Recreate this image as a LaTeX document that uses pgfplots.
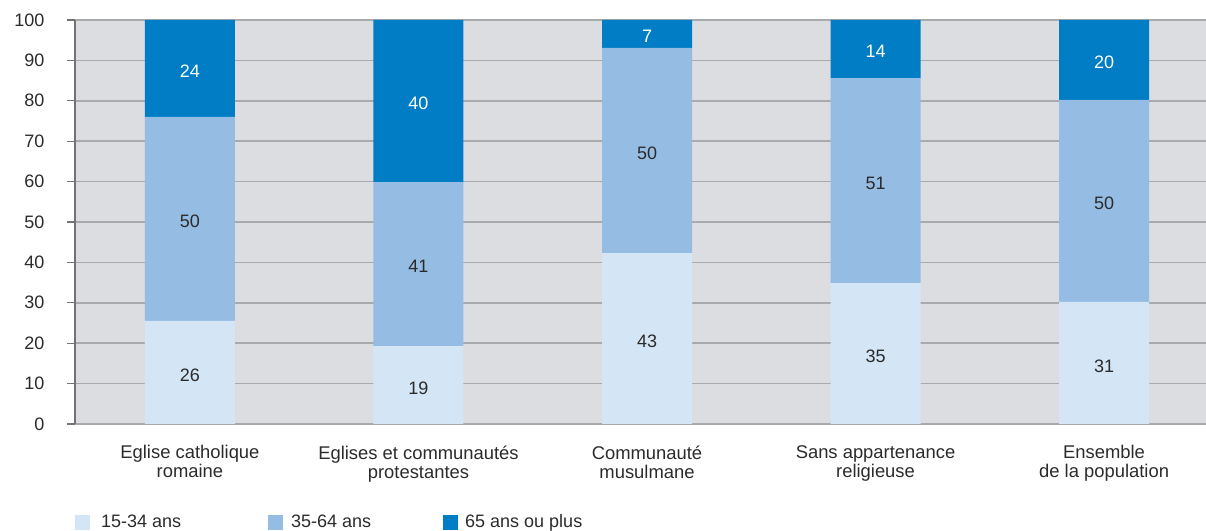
\documentclass[border=0pt]{standalone}
\usepackage{pgfplots}
\usepackage{pgfplotstable}
\pgfplotsset{compat=1.18}
\usepackage{fontspec}
\setmainfont{Liberation Sans}
\definecolor{cDark}{HTML}{007DC5}
\definecolor{cMid}{HTML}{95BDE4}
\definecolor{cLight}{HTML}{D4E5F5}
\definecolor{cBg}{HTML}{DCDDE0}
\definecolor{cGrid}{HTML}{A9AAAC}
\definecolor{cTxt}{HTML}{2B2B2B}

\pgfplotstableread{
x h lab
0 25.5 26
1 19.3 19
2 42.3 43
3 34.9 35
4 30.2 31
}\tyoung
\pgfplotstableread{
x h lab
0 50.5 50
1 40.6 41
2 50.8 50
3 50.7 51
4 50.0 50
}\tmid
\pgfplotstableread{
x h lab
0 24.0 24
1 40.1 40
2 6.9 7
3 14.4 14
4 19.8 20
}\told

\begin{document}
\begin{tikzpicture}
\path[use as bounding box] (0,0) rectangle (1206bp,531bp);
\begin{axis}[
  at={(75bp,107bp)}, anchor=south west,
  scale only axis, width=1131bp, height=404bp,
  ybar stacked, bar width=90bp,
  xmin=-0.503, xmax=4.446, ymin=0, ymax=100,
  xtick=data,
  xticklabels={{Eglise catholique\\romaine},{Eglises et communautés\\protestantes},{Communauté\\musulmane},{Sans appartenance\\religieuse},{Ensemble\\de la population}},
  ytick={0,10,...,100},
  axis x line*=bottom, axis y line*=left,
  axis line style={-, line width=1.2bp},
  x axis line style={draw=cGrid},
  y axis line style={draw=black!55},
  x tick style={draw=none},
  y tick style={draw=black!55, line width=1.2bp},
  tick align=outside, major tick length=8bp,
  ymajorgrids, major grid style={cGrid, line width=1.5bp},
  axis background/.style={fill=cBg},
  /pgf/number format/assume math mode=true,
  tick label style={font=\fontsize{18bp}{19bp}\selectfont, text=cTxt},
  yticklabel style={xshift=-19bp},
  xticklabel style={align=center, yshift=-10bp, font=\fontsize{18.4bp}{19bp}\selectfont},
  point meta=explicit symbolic,
  legend columns=3,
  legend style={at={(0,-0.2426)}, anchor=west, draw=none, fill=none, inner sep=0pt,
    font=\fontsize{18bp}{19bp}\selectfont, text=cTxt,
    /tikz/every even column/.style={column sep=0pt},
    nodes={inner sep=0pt}},
  legend image code/.code={\fill[#1,draw=none] (0bp,-7.5bp) rectangle (15bp,7.5bp);},
]
\addplot[fill=cLight, draw=none,
  nodes near coords,
  every node near coord/.append style={anchor=center, yshift=-3bp, font=\fontsize{18bp}{19bp}\selectfont, text=cTxt}]
  table[x=x, y=h, meta=lab] {\tyoung};
\addlegendentry{\hspace{11bp}\makebox[167bp][l]{15-34 ans}}
\addplot[fill=cMid, draw=none,
  nodes near coords,
  every node near coord/.append style={anchor=center, yshift=-2.5bp, font=\fontsize{18bp}{19bp}\selectfont, text=cTxt}]
  table[x=x, y=h, meta=lab] {\tmid};
\addlegendentry{\hspace{8bp}\makebox[152bp][l]{35-64 ans}}
\addplot[fill=cDark, draw=none,
  nodes near coords,
  every node near coord/.append style={anchor=center, yshift=-2.5bp, font=\fontsize{18bp}{19bp}\selectfont, text=white}]
  table[x=x, y=h, meta=lab] {\told};
\addlegendentry{\hspace{7bp}65 ans ou plus}
\end{axis}
\end{tikzpicture}
\end{document}
